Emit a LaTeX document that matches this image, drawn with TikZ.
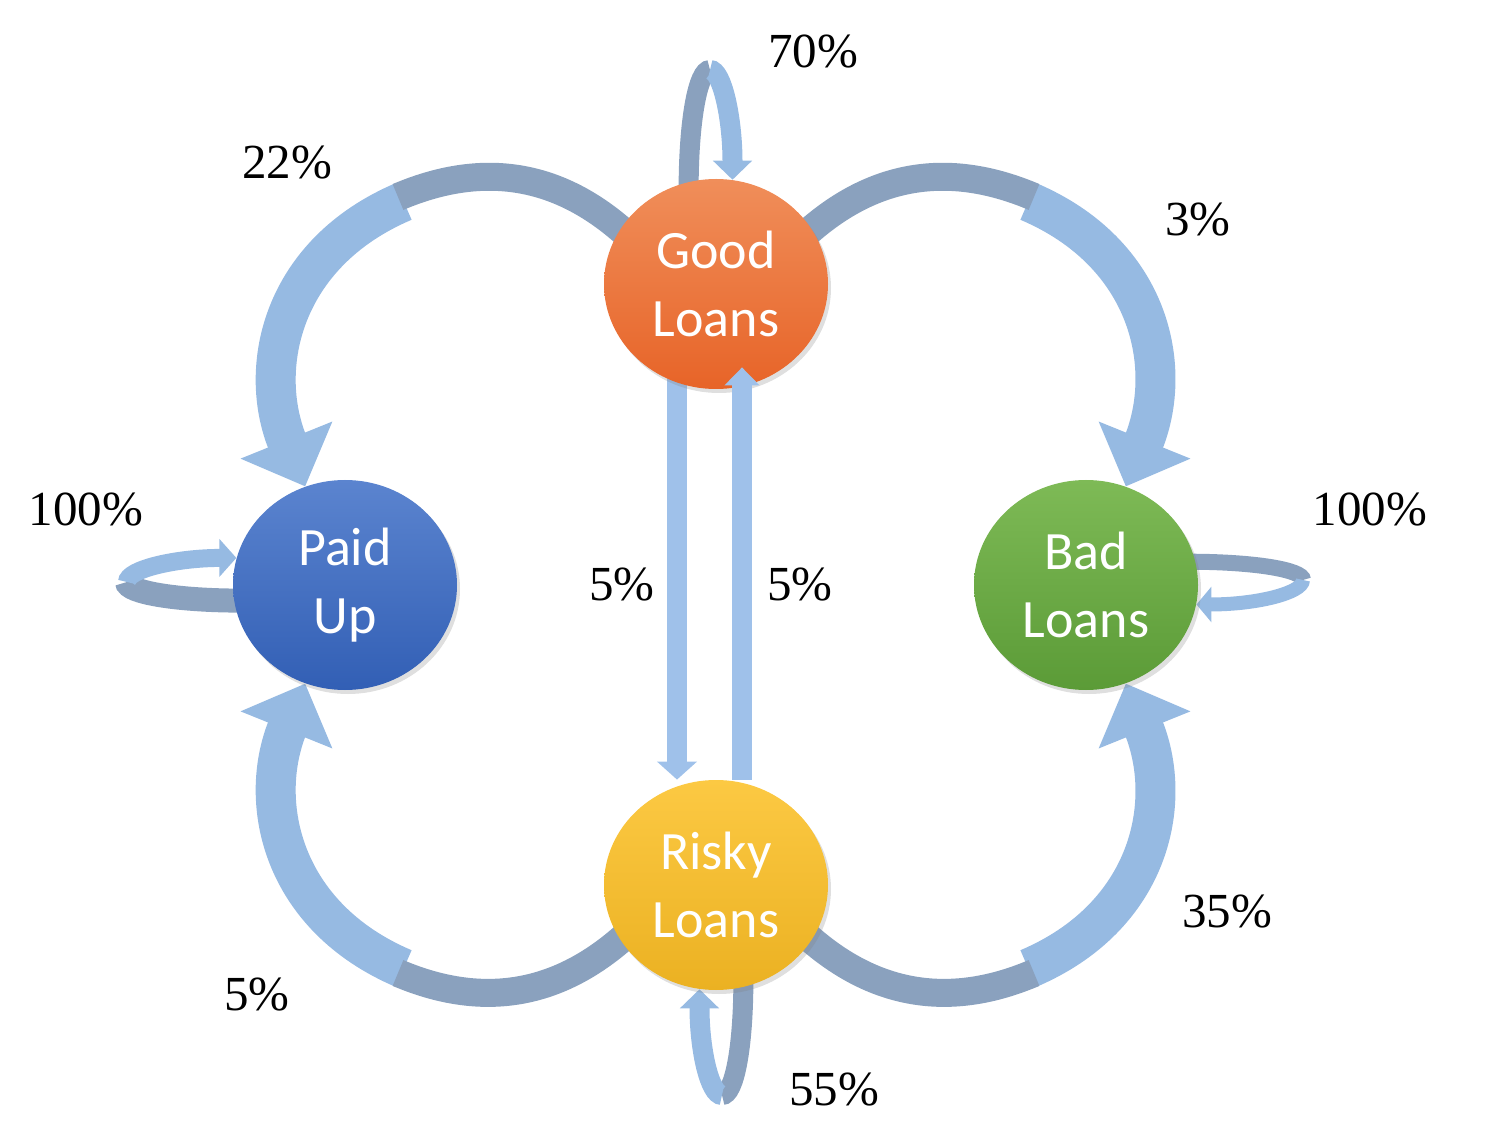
\documentclass[tikz,border=0pt]{standalone}
\usepackage{fontspec}
\setmainfont{Liberation Serif}
\newfontfamily\carlito{Carlito}
\usetikzlibrary{shapes.geometric,arrows.meta,backgrounds,shadows}

\definecolor{bandlight}{HTML}{96BAE2}
\definecolor{banddark}{HTML}{8AA1BE}
\definecolor{barlight}{HTML}{9FC1EA}
\definecolor{goodtop}{HTML}{F08E5A}
\definecolor{goodbot}{HTML}{E76428}
\definecolor{paidtop}{HTML}{5B84CF}
\definecolor{paidbot}{HTML}{325FB5}
\definecolor{badtop}{HTML}{7EBA56}
\definecolor{badbot}{HTML}{5B9B37}
\definecolor{riskytop}{HTML}{FCC943}
\definecolor{riskybot}{HTML}{EBB122}

\tikzset{
  loan/.style={ellipse, minimum width=112pt, minimum height=105pt, inner sep=0pt,
    text=white, align=center, font=\carlito\fontsize{27}{34}\selectfont,
    drop shadow={shadow xshift=1.5pt, shadow yshift=-2pt, opacity=0.25}},
  pct/.style={font=\fontsize{24.5}{28}\selectfont},
  darkband/.style={draw=banddark, line width=#1},
  lightband/.style={draw=bandlight, line width=#1},
  bighead/.style={-{Triangle[width=48pt,length=25pt]}},
}

\begin{document}
\begin{tikzpicture}[x=0.5pt, y=0.5pt]
  \useasboundingbox (0,0) rectangle (1488,1142);

  \node[loan, top color=goodtop, bottom color=goodbot] (GL) at (716, 858) {Good\\Loans};
  \node[loan, top color=paidtop, bottom color=paidbot] (PU) at (345, 557) {Paid\\Up};
  \node[loan, top color=badtop, bottom color=badbot] (BL) at (1086, 557) {Bad\\Loans};
  \node[loan, top color=riskytop, bottom color=riskybot] (RL) at (716, 257) {Risky\\Loans};

  % where the bands twist
  \coordinate (TopL) at (400, 939);
  \coordinate (TopLo) at (398, 945);
  \coordinate (TopR) at (1032, 939);
  \coordinate (TopRo) at (1034, 945);
  \coordinate (BotL) at (400, 175);
  \coordinate (BotLo) at (398, 169);
  \coordinate (BotR) at (1032, 175);
  \coordinate (BotRo) at (1034, 169);
  \coordinate (LoopG) at (710, 1072);
  \coordinate (LoopR) at (722, 47);
  \coordinate (LoopP) at (127, 560);
  \coordinate (LoopB) at (1303, 562);

  \begin{scope}[on background layer]
    % big curved arrows
    \draw[lightband=20pt, bighead, shorten <=-2pt] (TopL) to[out=203, in=112, looseness=1.1] (PU.112);
    \draw[darkband=14pt, shorten <=-4pt] (GL.150) to[out=138, in=23] (TopLo);
    \draw[lightband=20pt, bighead, shorten <=-2pt] (TopR) to[out=-23, in=68, looseness=1.1] (BL.68);
    \draw[darkband=14pt, shorten <=-4pt] (GL.30) to[out=42, in=157] (TopRo);
    \draw[lightband=20pt, bighead, shorten <=-2pt] (BotL) to[out=157, in=248, looseness=1.1] (PU.248);
    \draw[darkband=14pt, shorten <=-4pt] (RL.210) to[out=222, in=-23] (BotLo);
    \draw[lightband=20pt, bighead, shorten <=-2pt] (BotR) to[out=23, in=292, looseness=1.1] (BL.292);
    \draw[darkband=14pt, shorten <=-4pt] (RL.330) to[out=318, in=203] (BotRo);

    % self loops
    \draw[darkband=10pt, shorten <=-4pt] (GL.105) .. controls +(0,62) and +(-12,0) .. (LoopG);
    \draw[lightband=10pt, -{Triangle[width=19pt,length=9.5pt]}] (LoopG) .. controls +(12,0) and +(0,62) .. (GL.81);
    \draw[darkband=10pt, shorten <=-4pt] (RL.285) .. controls +(0,-62) and +(12,0) .. (LoopR);
    \draw[lightband=10pt, -{Triangle[width=19pt,length=9.5pt]}] (LoopR) .. controls +(-12,0) and +(0,-62) .. (RL.261);
    \draw[darkband=12pt, shorten <=-4pt] (PU.188) .. controls +(-59,0) and +(0,-10) .. (LoopP);
    \draw[lightband=9pt, -{Triangle[width=18.5pt,length=8.5pt]}] (LoopP) .. controls +(0,13) and +(-59,0) .. (PU.166);
    \draw[darkband=8pt, shorten <=-4pt] (BL.12) .. controls +(60,0) and +(0,10) .. (LoopB);
    \draw[lightband=7pt, -{Triangle[width=17.5pt,length=7.5pt]}] (LoopB) .. controls +(0,-13) and +(60,0) .. (BL.350);

    % good to risky
    \draw[draw=barlight, line width=10pt, shorten <=-5pt, -{Triangle[width=19.5pt,length=9pt]}]
      ([xshift=-19.5pt]GL.south) -- ([xshift=-19.5pt]RL.north);
  \end{scope}

  % risky to good, over the node
  \draw[draw=barlight, line width=10pt, shorten >=-11pt, -{Triangle[width=17pt,length=9pt]}]
    ([xshift=13pt]RL.north) -- ([xshift=13pt]GL.south);

  \node[pct] (P70) at (813, 1090) {70\%};
  \node[pct] (P22) at (287, 979) {22\%};
  \node[pct] (P3) at (1198, 922) {3\%};
  \node[pct] (P100L) at (86, 632) {100\%};
  \node[pct] (P100R) at (1370, 632) {100\%};
  \node[pct] (P5D) at (622, 557) {5\%};
  \node[pct] (P5U) at (800, 557) {5\%};
  \node[pct] (P5B) at (257, 147) {5\%};
  \node[pct] (P35) at (1227, 230) {35\%};
  \node[pct] (P55) at (834, 52) {55\%};
\end{tikzpicture}
\end{document}
